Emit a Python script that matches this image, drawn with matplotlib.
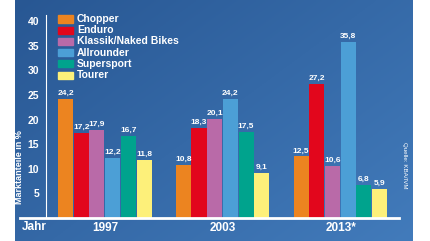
import numpy as np
import matplotlib.pyplot as plt

# data
years = ["1997", "2003", "2013*"]
segments = ["Chopper", "Enduro", "Klassik/Naked Bikes", "Allrounder", "Supersport", "Tourer"]
colors = ["#ec8420", "#e2061c", "#b96aa8", "#4c9fd6", "#00a38d", "#fdf07a"]
shares = {
    "Chopper": [24.2, 10.8, 12.5],
    "Enduro": [17.2, 18.3, 27.2],
    "Klassik/Naked Bikes": [17.9, 20.1, 10.6],
    "Allrounder": [12.2, 24.2, 35.8],
    "Supersport": [16.7, 17.5, 6.8],
    "Tourer": [11.8, 9.1, 5.9],
}
y_ticks = [5, 10, 15, 20, 25, 30, 35, 40]

W, H = 430, 241
fig = plt.figure(figsize=(W / 100, H / 100), dpi=100, facecolor="white")
font = ["Liberation Sans", "DejaVu Sans"]

# blue gradient panel
bg = fig.add_axes([15 / W, 0, (413 - 15) / W, 1])
gx, gy = np.meshgrid(np.linspace(0, 1, 200), np.linspace(0, 1, 120))
grad = 0.55 * gx + 0.45 * gy
c0 = np.array([0x28, 0x57, 0x93]) / 255
c1 = np.array([0x42, 0x7b, 0xbb]) / 255
img = c0 + (c1 - c0) * grad[..., None]
bg.imshow(img, aspect="auto", extent=[0, 1, 0, 1], origin="upper")
bg.axis("off")

# main axes
left, right, top, bottom = 46, 399, 15, 218
ax = fig.add_axes([left / W, 1 - bottom / H, (right - left) / W, (bottom - top) / H])
ax.patch.set_alpha(0)
px_per_unit = (218 - 21) / 40
ax.set_ylim(0, (bottom - top) / px_per_unit)
bw = 15.7
ax.set_xlim((left - 58) / bw, (right - 58) / bw)

step = 7.5
for i, seg in enumerate(segments):
    for g, v in enumerate(shares[seg]):
        x = g * step + i
        ax.bar(x, v, width=0.96, align="edge", color=colors[i], linewidth=0)
        ax.text(x + 0.48, v + 0.4, f"{v:.1f}".replace(".", ","), ha="center", va="bottom",
                color="white", fontsize=6, fontweight="bold", family=font)

for s in ["top", "right", "bottom"]:
    ax.spines[s].set_visible(False)
ax.spines["left"].set_color("white")
ax.spines["left"].set_linewidth(0.8)
ax.axhline(0, xmin=-26 / (right - left), xmax=1, clip_on=False, color="white", lw=2)

ax.set_yticks(y_ticks)
ax.set_yticklabels([str(t) for t in y_ticks], color="white", fontsize=7.5,
                   fontweight="bold", family=font)
ax.tick_params(axis="y", length=0, pad=5)
ax.set_xticks([g * step + 3 for g in range(len(years))])
ax.set_xticklabels(years, color="white", fontsize=8.5, fontweight="bold", family=font)
ax.tick_params(axis="x", length=0, pad=3)
ax.set_ylabel("Marktanteile in %", color="white", fontsize=6.5, fontweight="bold",
              family=font)
ax.yaxis.set_label_coords(-0.062, 0.25)

fig.text(22 / W, 1 - 227 / H, "Jahr", color="white", fontsize=8.5, fontweight="bold",
         family=font, va="center")
fig.text(404 / W, 1 - 165 / H, "Quelle: KBA/IVM", color="white", fontsize=4.5, rotation=-90,
         ha="center", va="center", family=font)

# legend
for i, seg in enumerate(segments):
    yc = 19 + i * 11.2
    fig.patches.append(plt.Rectangle((58 / W, 1 - (yc + 3.5) / H), 15 / W, 7 / H,
                                     transform=fig.transFigure, color=colors[i]))
    fig.text(77 / W, 1 - yc / H, seg, color="white", fontsize=7.5, fontweight="bold",
             family=font, va="center")

fig.savefig("out.png", dpi=100, facecolor="white")
